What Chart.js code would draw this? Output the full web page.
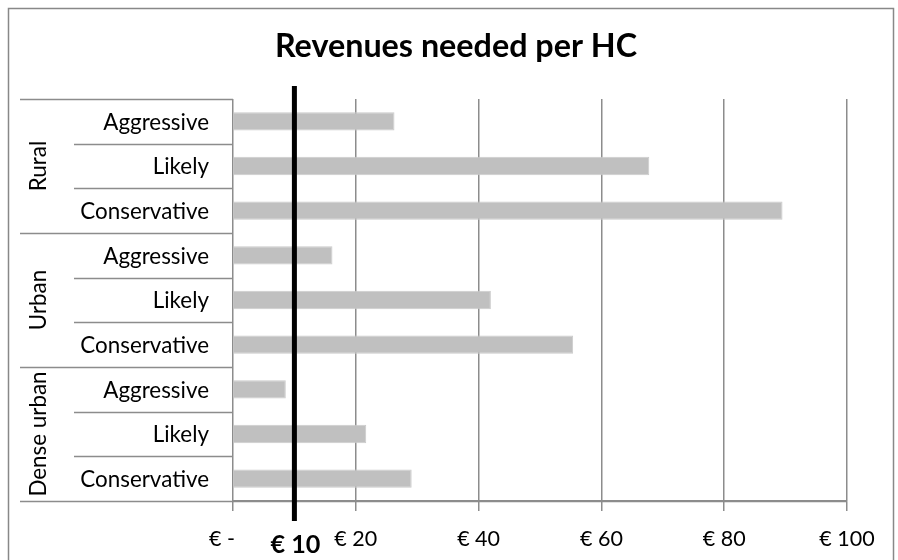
<!DOCTYPE html>
<html>
<head>
<meta charset="utf-8">
<script src="https://cdn.jsdelivr.net/npm/chart.js@4/dist/chart.umd.min.js"></script>
<style>
  html, body { margin: 0; padding: 0; background: #ffffff; }
  canvas { display: block; }
</style>
</head>
<body>
<canvas id="c" width="898" height="560"></canvas>
<script>
// ---- data ----
const groups = ['Rural', 'Urban', 'Dense urban'];
const scenarios = ['Aggressive', 'Likely', 'Conservative'];
const categories = ['Aggressive', 'Likely', 'Conservative',
                    'Aggressive', 'Likely', 'Conservative',
                    'Aggressive', 'Likely', 'Conservative'];
const revenues = [26.3, 67.8, 89.5, 16.2, 42.0, 55.4, 8.6, 21.7, 29.1];
const tickValues = [0, 20, 40, 60, 80, 100];
const tickLabels = ['€ -', '€ 20', '€ 40', '€ 60', '€ 80', '€ 100'];
const threshold = 10;
const thresholdLabel = '€ 10';
const title = 'Revenues needed per HC';

// ---- style helpers ----
const FAMILY = 'Lato, "Open Sans", sans-serif';
const mctx = document.createElement('canvas').getContext('2d');
function fit(text, target, weight) {
  mctx.font = weight + ' 100px ' + FAMILY;
  const w = mctx.measureText(text).width;
  return Math.round(100 * target / w * 10) / 10;
}
const labelSize = fit('Conservative', 129, 'normal');
const tickSize = fit('€ 20', 43, 'normal');
const titleSize = fit(title, 362, 'bold');
const tenSize = fit(thresholdLabel, 50, 'bold');
const GRID = '#8c8c8c';

const tablePlugin = {
  id: 'table',
  beforeDraw(chart) {
    const ctx = chart.ctx;
    ctx.save();
    ctx.fillStyle = '#ffffff';
    ctx.fillRect(0, 0, chart.width, chart.height);
    ctx.restore();
  },
  afterDatasetsDraw(chart) {
    const ctx = chart.ctx;
    const ys = chart.scales.y, xs = chart.scales.x;
    const area = chart.chartArea;
    const n = categories.length;
    const step = (area.bottom - area.top) / n;
    ctx.save();
    // table lines
    ctx.strokeStyle = GRID;
    ctx.lineWidth = 1.5;
    for (let i = 0; i <= n; i++) {
      const y = Math.round(ys.getPixelForValue(i) - step / 2) + 0.5;
      const x0 = (i % 3 === 0) ? 20 : 74;
      ctx.beginPath();
      ctx.moveTo(x0, y);
      ctx.lineTo(i === n ? area.right : area.left, y);
      ctx.stroke();
    }
    // category labels
    ctx.fillStyle = '#000';
    ctx.font = 'normal ' + labelSize + 'px ' + FAMILY;
    ctx.textAlign = 'right';
    ctx.textBaseline = 'middle';
    for (let i = 0; i < n; i++) {
      ctx.fillText(categories[i], 209, ys.getPixelForValue(i) + 1);
    }
    // group labels (rotated)
    for (let g = 0; g < groups.length; g++) {
      const top = ys.getPixelForValue(g * 3) - step / 2;
      const bot = ys.getPixelForValue(g * 3 + 2) + step / 2;
      const w = ctx.measureText(groups[g]).width;
      let cy = (top + bot) / 2;
      if (cy + w / 2 > area.bottom) cy = area.bottom - w / 2;
      ctx.save();
      ctx.translate(39, cy);
      ctx.rotate(-Math.PI / 2);
      ctx.textAlign = 'center';
      ctx.fillText(groups[g], 0, 0);
      ctx.restore();
    }
    // threshold line
    const tx = xs.getPixelForValue(threshold);
    ctx.strokeStyle = '#000';
    ctx.lineWidth = 5;
    ctx.beginPath();
    ctx.moveTo(tx, 86);
    ctx.lineTo(tx, 521);
    ctx.stroke();
    ctx.font = 'bold ' + tenSize + 'px ' + FAMILY;
    ctx.textAlign = 'center';
    ctx.textBaseline = 'middle';
    ctx.fillText(thresholdLabel, tx + 1, 545);
    // title
    ctx.font = 'bold ' + titleSize + 'px ' + FAMILY;
    ctx.fillText(title, 456, 47);
    // outer border
    ctx.strokeStyle = '#888888';
    ctx.lineWidth = 1.5;
    ctx.strokeRect(8.5, 8.5, 885, 600);
    ctx.restore();
  }
};

new Chart(document.getElementById('c'), {
  type: 'bar',
  data: {
    labels: categories,
    datasets: [{
      data: revenues,
      backgroundColor: '#c0c0c0',
      borderColor: '#cbcbcb',
      borderWidth: 1,
      barPercentage: 0.41,
      categoryPercentage: 1.0
    }]
  },
  options: {
    indexAxis: 'y',
    responsive: false,
    animation: false,
    layout: { padding: { left: 233, right: 51, top: 99, bottom: 0 } },
    plugins: { legend: { display: false }, tooltip: { enabled: false }, title: { display: false } },
    scales: {
      y: { display: false },
      x: {
        min: 0, max: 100,
        afterBuildTicks(scale) { scale.ticks = tickValues.map(v => ({ value: v })); },
        afterFit(scale) { scale.height = 59; },
        grid: { color: GRID, lineWidth: 1.5, tickLength: 10, drawTicks: true },
        border: { display: true, color: GRID, width: 1.5 },
        ticks: {
          color: '#000',
          padding: 15,
          maxRotation: 0,
          font: { family: FAMILY, size: tickSize },
          callback: (v) => {
            const i = tickValues.indexOf(v);
            return i === 0 ? tickLabels[i] + '    ' : tickLabels[i];
          }
        }
      }
    }
  },
  plugins: [tablePlugin]
});
</script>
</body>
</html>
